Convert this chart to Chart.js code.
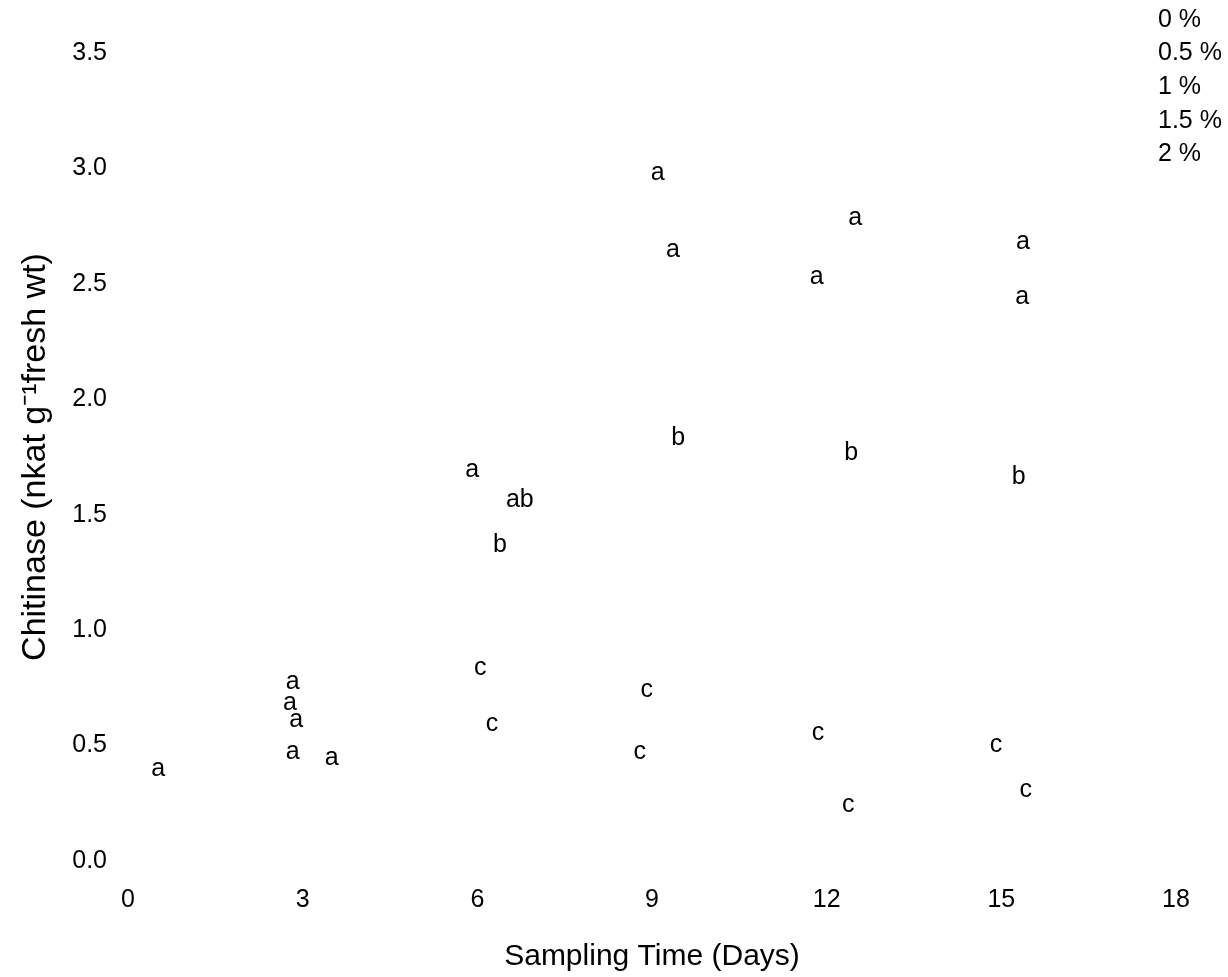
<!DOCTYPE html>
<html>
<head>
<meta charset="utf-8">
<title>Chitinase</title>
<script src="https://cdn.jsdelivr.net/npm/chart.js@4"></script>
<style>
  html, body { margin: 0; padding: 0; background: #fff; }
  #wrap { width: 1228px; height: 977px; }
</style>
</head>
<body>
<div id="wrap"><canvas id="chitinaseChart" width="1228" height="977"></canvas></div>
<script>
const concentrations = ['0 %', '0.5 %', '1 %', '1.5 %', '2 %'];
const xTicks = [0, 3, 6, 9, 12, 15, 18];

// letter positions (day, nkat g-1 fresh wt)
const conc0X = [0.52, 3.50, 6.25, 8.79, 12.37, 15.42];
const conc0Y = [0.40, 0.446, 0.593, 0.472, 0.243, 0.308];
const conc0Letters = ['a', 'a', 'c', 'c', 'c', 'c'];

const conc05X = [2.83, 6.05, 8.91, 11.85, 14.91];
const conc05Y = [0.472, 0.836, 0.741, 0.554, 0.502];
const conc05Letters = ['a', 'c', 'c', 'c', 'c'];

const conc1X = [2.89, 6.39, 9.45, 12.42, 15.30];
const conc1Y = [0.611, 1.369, 1.832, 1.767, 1.663];
const conc1Letters = ['a', 'b', 'b', 'b', 'b'];

const conc15X = [2.78, 6.73, 9.36, 11.83, 15.36];
const conc15Y = [0.684, 1.564, 2.647, 2.530, 2.443];
const conc15Letters = ['a', 'ab', 'a', 'a', 'a'];

const conc2X = [2.83, 5.91, 9.10, 12.49, 15.37];
const conc2Y = [0.775, 1.694, 2.980, 2.785, 2.681];
const conc2Letters = ['a', 'a', 'a', 'a', 'a'];

const FONT = "'Liberation Sans', Arial, sans-serif";

function toPoints(xs, ys) {
    return xs.map((x, i) => ({ x: x, y: ys[i] }));
}

const seriesX = [conc0X, conc05X, conc1X, conc15X, conc2X];
const seriesY = [conc0Y, conc05Y, conc1Y, conc15Y, conc2Y];
const seriesLetters = [conc0Letters, conc05Letters, conc1Letters, conc15Letters, conc2Letters];

const datasets = concentrations.map((label, i) => ({
    label: label,
    data: toPoints(seriesX[i], seriesY[i]),
    letters: seriesLetters[i],
    pointRadius: 0,
    showLine: false
}));

// draws the significance letters at each point and the plain-text legend
const letterPlugin = {
    id: 'letterPlugin',
    afterDatasetsDraw(chart) {
        const ctx = chart.ctx;
        ctx.save();
        ctx.fillStyle = '#000';
        ctx.font = '25px ' + FONT;
        ctx.textAlign = 'center';
        ctx.textBaseline = 'middle';
        chart.data.datasets.forEach((ds, i) => {
            const meta = chart.getDatasetMeta(i);
            meta.data.forEach((pt, j) => {
                ctx.fillText(ds.letters[j], pt.x, pt.y);
            });
        });

        // legend, text only
        ctx.textAlign = 'left';
        chart.data.datasets.forEach((ds, i) => {
            ctx.fillText(ds.label, 1158, 20 + i * 33.6);
        });
        ctx.restore();
    }
};

const ctx = document.getElementById('chitinaseChart').getContext('2d');
const chitinaseChart = new Chart(ctx, {
    type: 'scatter',
    data: { datasets: datasets },
    plugins: [letterPlugin],
    options: {
        responsive: false,
        animation: false,
        events: [],
        layout: { padding: { top: 53, right: 52, left: 0, bottom: 0 } },
        plugins: {
            legend: { display: false },
            tooltip: { enabled: false }
        },
        scales: {
            x: {
                type: 'linear',
                min: 0,
                max: 18,
                border: { display: false },
                grid: { display: false, drawTicks: false },
                afterBuildTicks: (scale) => { scale.ticks = xTicks.map(v => ({ value: v })); },
                afterFit: (scale) => { scale.height = 116; },
                ticks: {
                    color: '#000',
                    padding: 24,
                    font: { family: FONT, size: 25 },
                    callback: (v) => String(v)
                },
                title: {
                    display: true,
                    text: 'Sampling Time (Days)',
                    color: '#000',
                    font: { family: FONT, size: 30 },
                    padding: { top: 0, bottom: 2 }
                }
            },
            y: {
                min: 0,
                max: 3.5,
                border: { display: false },
                grid: { display: false, drawTicks: false },
                afterFit: (scale) => { scale.width = 128; },
                ticks: {
                    stepSize: 0.5,
                    color: '#000',
                    padding: 21,
                    font: { family: FONT, size: 25 },
                    callback: (v) => Number(v).toFixed(1)
                },
                title: {
                    display: true,
                    text: 'Chitinase (nkat g\u207B\u00B9fresh wt)',
                    color: '#000',
                    font: { family: FONT, size: 34 },
                    padding: { top: 15, bottom: 0 }
                }
            }
        }
    }
});
</script>
</body>
</html>
